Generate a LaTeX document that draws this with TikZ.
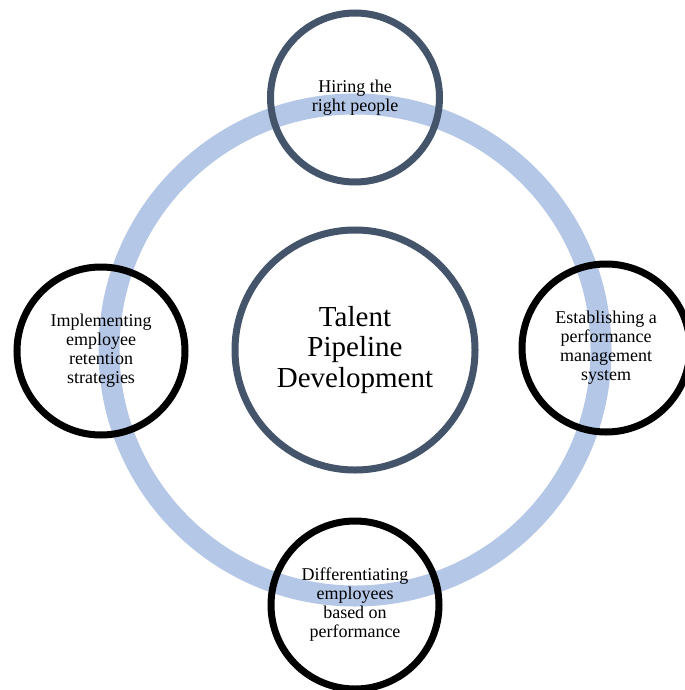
\documentclass[tikz,border=0pt]{standalone}
\usepackage{fontspec}
\setmainfont{Liberation Serif}
\definecolor{ringblue}{HTML}{B4C7E7}
\definecolor{slate}{HTML}{44546A}

\begin{document}
\begin{tikzpicture}[
    x=1bp, y=-1bp,
    hub/.style={circle, draw=slate, line width=7bp, minimum size=240bp, inner sep=0pt, align=center, font=\fontsize{29bp}{30.5bp}\selectfont},
    spoke/.style={circle, draw=black, line width=7bp, minimum size=168bp, inner sep=0pt, align=center, font=\fontsize{18bp}{19bp}\selectfont},
    cycle/.style={draw=ringblue, line width=21bp}
]
    \useasboundingbox (0,0) rectangle (685,690);

    \coordinate (mid) at (355,350);
    \draw[cycle] (mid) circle[radius=246bp];

    \node[hub] (talent) at (mid) {Talent\\Pipeline\\Development};

    \node[spoke, draw=slate, minimum size=169bp] (hiring) at (355,97.5) {Hiring the\\right people};
    \node[spoke] (performance) at (606,348) {Establishing a\\performance\\management\\system};
    \node[spoke] (differentiating) at (355,605) {Differentiating\\employees\\based on\\performance};
    \node[spoke] (retention) at (101,351) {Implementing\\employee\\retention\\strategies};
\end{tikzpicture}
\end{document}
